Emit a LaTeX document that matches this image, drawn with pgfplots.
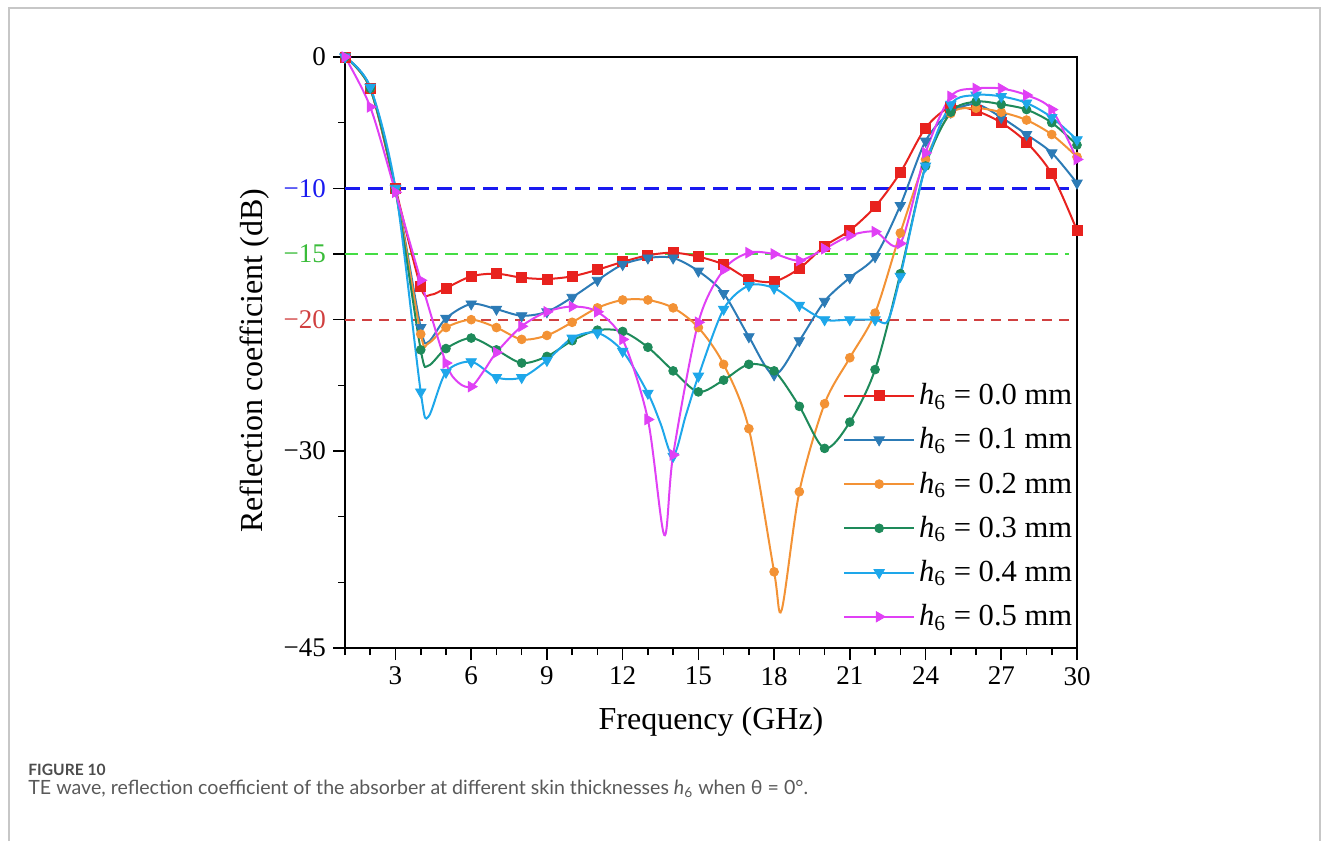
\documentclass[border=0pt]{standalone}
\usepackage{fontspec}
\setmainfont{Liberation Serif}
\newfontfamily\capfont{Lato}
\usepackage{pgfplots}
\pgfplotsset{compat=1.18}
\usepackage{pgfplotstable}

\definecolor{c0}{HTML}{E8221E}
\definecolor{c1}{HTML}{2C7BB6}
\definecolor{c2}{HTML}{F39235}
\definecolor{c3}{HTML}{1E8A5A}
\definecolor{c4}{HTML}{1EA7EA}
\definecolor{c5}{HTML}{E040F5}
\definecolor{refblue}{HTML}{1A1AF0}
\definecolor{refgreen}{HTML}{44DD44}
\definecolor{refred}{HTML}{D04040}

\pgfplotstableread{
f r
1 0
2 -2.4
3 -10.0
4 -17.5
4.4 -18.1
5 -17.6
6 -16.7
7 -16.5
8 -16.8
9 -16.9
10 -16.7
11 -16.2
12 -15.6
13 -15.1
14 -14.9
15 -15.2
16 -15.8
17 -16.9
18 -17.1
19 -16.1
20 -14.4
21 -13.2
22 -11.4
23 -8.8
24 -5.4
25 -3.8
26 -4.1
27 -5.0
28 -6.5
29 -8.9
30 -13.2
}\tA

\pgfplotstableread{
f r
1 0
2 -2.3
3 -10.0
4 -20.6
4.3 -21.7
5 -19.9
6 -18.8
7 -19.2
8 -19.7
9 -19.4
10 -18.3
11 -17.0
12 -15.8
13 -15.3
14 -15.3
15 -16.3
16 -18.0
17 -21.3
18 -24.2
19 -21.6
20 -18.6
21 -16.8
22 -15.2
23 -11.3
24 -6.4
25 -4.2
26 -3.6
27 -4.6
28 -5.9
29 -7.3
30 -9.6
}\tB

\pgfplotstableread{
f r
1 0
2 -2.4
3 -10.1
4 -21.1
4.3 -21.8
5 -20.6
6 -20.0
7 -20.6
8 -21.5
9 -21.2
10 -20.2
11 -19.1
12 -18.5
13 -18.5
14 -19.1
15 -20.6
16 -23.4
17 -28.3
18 -39.2
18.3 -42.1
19 -33.1
20 -26.4
21 -22.9
22 -19.5
23 -13.4
24 -7.8
25 -4.3
26 -3.9
27 -4.2
28 -4.8
29 -5.9
30 -7.6
}\tC

\pgfplotstableread{
f r
1 0
2 -2.4
3 -10.2
4 -22.3
4.3 -23.5
5 -22.2
6 -21.4
7 -22.3
8 -23.3
9 -22.8
10 -21.6
11 -20.8
12 -20.9
13 -22.1
14 -23.9
15 -25.5
16 -24.6
17 -23.4
18 -23.9
19 -26.6
20 -29.8
21 -27.8
22 -23.8
23 -16.5
24 -8.3
25 -4.2
26 -3.4
27 -3.6
28 -4.0
29 -5.0
30 -6.7
}\tD

\pgfplotstableread{
f r
1 0
2 -2.3
3 -10.0
4 -25.5
4.3 -27.4
5 -24.0
6 -23.2
7 -24.4
8 -24.4
9 -23.1
10 -21.4
11 -21.0
12 -22.4
13 -25.6
13.5 -27.9
14 -30.4
14.5 -27.3
15 -24.3
16 -19.2
17 -17.4
18 -17.6
19 -18.9
20 -20.0
21 -20.0
22 -20.0
22.5 -20.1
23 -16.7
24 -8.3
25 -3.6
26 -2.9
27 -3.0
28 -3.5
29 -4.6
30 -6.3
}\tE

\pgfplotstableread{
f r
1 0
2 -3.8
3 -10.3
4 -17.0
5 -23.3
5.5 -24.8
6 -25.1
6.5 -23.9
7 -22.5
8 -20.5
9 -19.4
10 -19.0
11 -19.4
12 -21.5
13 -27.6
13.65 -36.4
14 -30.3
15 -20.2
16 -16.2
17 -14.9
18 -15.0
19 -15.5
20 -14.6
21 -13.6
22 -13.3
23 -14.2
24 -7.3
25 -3.0
26 -2.4
27 -2.4
28 -2.9
29 -4.0
30 -7.8
}\tF

\pgfplotsset{
  intmarks/.style={only marks, unbounded coords=discard,
    x filter/.expression={abs(x-round(x))<0.01 ? x : nan}},
  lineleg/.style={legend image code/.code={%
    \draw[##1,line width=1pt] (0pt,0pt) -- (35pt,0pt);
    \draw[##1] plot coordinates {(17.5pt,0pt)};}},
}

\begin{document}
\begin{tikzpicture}
\useasboundingbox (0,0) rectangle (664pt,-420.5pt);
\draw[color=black!22, line width=0.6pt] (4.5pt,-420.5pt) -- (4.5pt,-4pt) -- (660pt,-4pt) -- (660pt,-420.5pt);
\node[anchor=west, inner sep=0pt, font=\capfont\bfseries\fontsize{7.8}{9}\selectfont, text=black!70] at (14pt,-385pt) {FIGURE 10};
\node[anchor=west, inner sep=0pt, font=\capfont\fontsize{9.8}{11}\selectfont, text=black!65] at (14pt,-394.5pt) {TE wave, reflection coefficient of the absorber at different skin thicknesses \textit{h}\textsubscript{6} when θ = 0°.};

\begin{axis}[
  at={(172.5pt,-324pt)}, anchor=south west,
  scale only axis, width=366pt, height=295.5pt,
  xmin=1, xmax=30, ymin=-45, ymax=0,
  xtick={3,6,...,30},
  minor xtick={1,2,4,5,7,8,10,11,13,14,16,17,19,20,22,23,25,26,28,29},
  ytick={-45,-30,-20,-15,-10,0},
  yticklabels={−45,−30,\textcolor{refred}{−20},\textcolor{refgreen!85!black}{−15},\textcolor{refblue}{−10},0},
  minor ytick={-40,-35,-25,-5},
  tick align=outside, tick pos=left,
  major tick length=6pt, minor tick length=3.5pt,
  every tick/.style={black, line width=0.8pt},
  axis line style={line width=1pt},
  tick label style={font=\fontsize{13.5}{15}\selectfont},
  /pgf/number format/assume math mode=true,
  xlabel={Frequency (GHz)},
  ylabel={Reflection coefficient (dB)},
  label style={font=\fontsize{16}{18}\selectfont},
  xlabel style={at={(axis description cs:0.5,-0.125)}, anchor=center},
  ylabel style={at={(axis description cs:-0.123,0.486)}, anchor=center},
  legend style={draw=none, fill=none, at={(axis description cs:0.680,0.455)}, anchor=north west,
    font=\fontsize{15.3}{17}\selectfont, row sep=6pt, inner sep=0pt},
  legend cell align=left,
]
\addplot[refblue, line width=1.5pt, dash pattern=on 7.5pt off 4pt, forget plot] coordinates {(1,-10) (29.7,-10)};
\addplot[refgreen, line width=1.1pt, dash pattern=on 6.5pt off 3.5pt, forget plot] coordinates {(1,-15) (29.7,-15)};
\addplot[refred, line width=0.9pt, dash pattern=on 5pt off 3.5pt, forget plot] coordinates {(1,-20) (29.7,-20)};

\addplot[c0, line width=1pt, smooth, forget plot] table {\tA};
\addplot[c0, intmarks, mark=square*, mark size=2.5pt, lineleg] table {\tA};
\addlegendentry{\textit{h}\textsubscript{6} = 0.0 mm}

\addplot[c1, line width=1pt, smooth, forget plot] table {\tB};
\addplot[c1, intmarks, mark=triangle*, mark size=3pt, mark options={rotate=180}, lineleg] table {\tB};
\addlegendentry{\textit{h}\textsubscript{6} = 0.1 mm}

\addplot[c2, line width=1pt, smooth, forget plot] table {\tC};
\addplot[c2, intmarks, mark=*, mark size=2.2pt, lineleg] table {\tC};
\addlegendentry{\textit{h}\textsubscript{6} = 0.2 mm}

\addplot[c3, line width=1pt, smooth, forget plot] table {\tD};
\addplot[c3, intmarks, mark=*, mark size=2.2pt, lineleg] table {\tD};
\addlegendentry{\textit{h}\textsubscript{6} = 0.3 mm}

\addplot[c4, line width=1pt, smooth, forget plot] table {\tE};
\addplot[c4, intmarks, mark=triangle*, mark size=3pt, mark options={rotate=180}, lineleg] table {\tE};
\addlegendentry{\textit{h}\textsubscript{6} = 0.4 mm}

\addplot[c5, line width=1pt, smooth, forget plot] table {\tF};
\addplot[c5, intmarks, mark=triangle*, mark size=3pt, mark options={rotate=-90}, lineleg] table {\tF};
\addlegendentry{\textit{h}\textsubscript{6} = 0.5 mm}
\end{axis}
\end{tikzpicture}
\end{document}
